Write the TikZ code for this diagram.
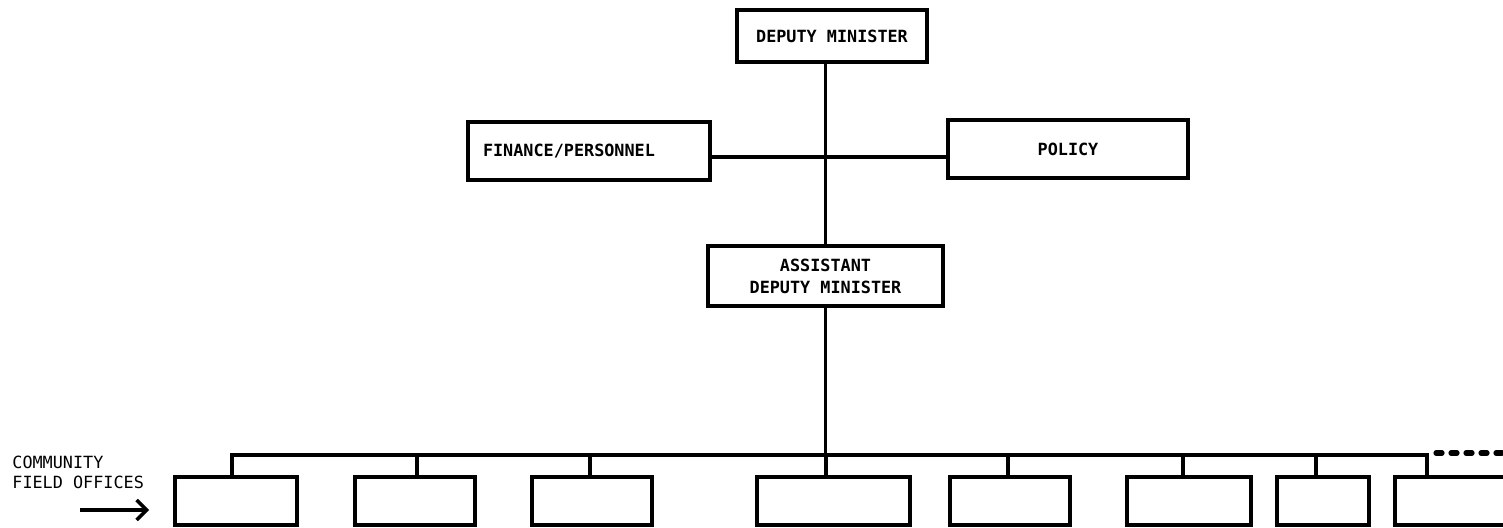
\documentclass[tikz,border=0pt]{standalone}
\usepackage{fontspec}
\newfontfamily\labelfont{DejaVu Sans Mono}
\usetikzlibrary{arrows.meta}
\begin{document}
\begin{tikzpicture}[x=0.5pt,y=-0.5pt,
  box/.style={draw, line width=1.8pt, inner sep=0pt,
    font=\labelfont\bfseries\fontsize{8.4}{11}\selectfont},
  office/.style={draw, line width=2pt, inner sep=0pt, minimum height=24pt, anchor=north west},
  link/.style={line width=1.6pt},
  trail/.style={line width=2.6pt, line cap=round, dash pattern=on 3pt off 4.5pt}]
\useasboundingbox (0,0) rectangle (1503,528);
\clip (0,0) rectangle (1503,528);

% head office
\node[box, minimum width=95pt, minimum height=26pt] (dm) at (832,36) {DEPUTY MINISTER};
\node[box, minimum width=121pt, minimum height=29pt, text width=106pt, align=left, inner xsep=7.5pt]
  (fin) at (589,151) {FINANCE/PERSONNEL};
\node[box, minimum width=120pt, minimum height=29pt] (pol) at (1068,149) {POLICY};
\node[box, minimum width=117.5pt, minimum height=30pt, align=center] (adm) at (825.5,276)
  {ASSISTANT\\DEPUTY MINISTER};

\draw[link] (dm.south -| adm.north) -- (adm.north);
\draw[link] ([yshift=-3pt]fin.east) -- ([yshift=-3pt]fin.east -| pol.west);

% community field offices: number/left/right/drop
\foreach \i/\l/\r/\d in {1/173/295/232, 2/353/473/417, 3/530/650/590, 4/755/908/826,
                         5/948/1068/1008, 6/1125/1249/1183, 7/1275/1367/1316, 8/1393/1530/1427}
{
  \pgfmathsetmacro\w{(\r-\l)/2}
  \node[office, minimum width=\w pt] (o\i) at (\l,475) {};
  \coordinate (d\i) at (\d,455);
}

\draw[link] (adm.south) -- (adm.south |- d4);
\draw[link] (d1 |- o1.north) -- (d1) -- (d8) -- (d8 |- o8.north);
\foreach \i in {2,...,7}
  \draw[link] (d\i) -- (d\i |- o\i.north);
\coordinate (tail) at (1510,453);
\draw[trail] ([xshift=4.5pt,yshift=1pt]d8) -- (tail);

% side label
\node[font=\labelfont\fontsize{8.4}{10}\selectfont, align=left, anchor=north west, inner sep=0pt]
  (cfo) at (12,456) {COMMUNITY\\FIELD OFFICES};
\coordinate (aS) at (80,510);
\coordinate (aE) at (149,510);
\draw[line width=1.7pt, -{Straight Barb[length=5pt,width=10pt]}] (aS) -- (aE);
\end{tikzpicture}
\end{document}
